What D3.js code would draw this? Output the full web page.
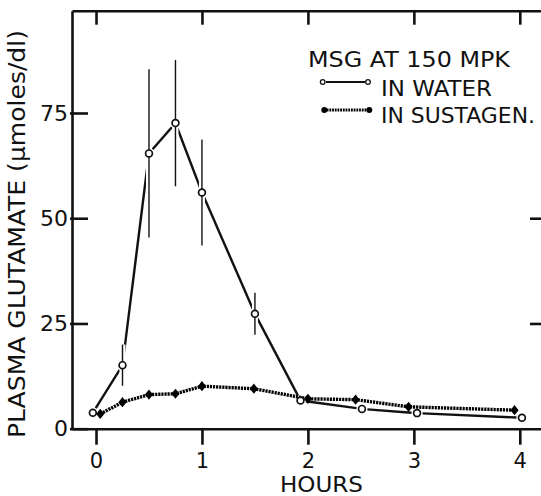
<!DOCTYPE html>
<html>
<head>
<meta charset="utf-8">
<script src="https://cdn.jsdelivr.net/npm/d3@7"></script>
<style>
  html, body { margin: 0; padding: 0; background: #fff; }
  svg { display: block; }
  text { font-family: "DejaVu Sans", "Liberation Sans", sans-serif; fill: #111; }
</style>
</head>
<body>
<svg id="chart" width="541" height="496"></svg>
<script>
// ---- data ----
const waterHours = [-0.03, 0.25, 0.5, 0.75, 1.0, 1.5, 1.93, 2.51, 3.03, 4.02];
const waterValues = [3.8, 15.1, 65.4, 72.6, 56.1, 27.3, 6.7, 4.7, 3.7, 2.6];
const waterErrors = [0, 4.9, 20, 15, 12.6, 5, 0, 0, 0, 0];
const sustagenHours = [0.04, 0.25, 0.5, 0.75, 1.0, 1.49, 2.0, 2.45, 2.95, 3.95];
const sustagenValues = [3.5, 6.3, 8.1, 8.3, 10.1, 9.5, 7.1, 6.9, 5.2, 4.4];
const xTickValues = [0, 1, 2, 3, 4];
const yTickValues = [0, 25, 50, 75];
const rightTickValues = [25, 50];
const legendTitle = "MSG AT 150 MPK";
const legendLabels = ["IN WATER", "IN SUSTAGEN."];
const xTitle = "HOURS";
const yTitle = "PLASMA GLUTAMATE (\u03bcmoles/dl)";

(function () {
// ---- layout ----
const svg = d3.select("#chart");
const pLeft = 72, pRight = 541, pTop = 10.7, pBottom = 428.7;
const x = d3.scaleLinear().domain([-0.2266, 4.2]).range([pLeft, pRight]);
const y = d3.scaleLinear().domain([0, 99.3]).range([pBottom, pTop]);
const ink = "#111";

function styleAxis(g) {
  g.selectAll("path.domain").attr("stroke", ink).attr("stroke-width", 2.6);
  g.selectAll(".tick line").attr("stroke", ink).attr("stroke-width", 2.6);
  g.selectAll(".tick text").attr("fill", ink)
    .style("font-family", '"DejaVu Sans", sans-serif');
}

// bottom axis (outward ticks)
const gx = svg.append("g").attr("transform", `translate(0,${pBottom})`)
  .call(d3.axisBottom(x).tickValues(xTickValues).tickSizeInner(16).tickSizeOuter(0)
    .tickPadding(8).tickFormat(d3.format("d")));
gx.selectAll(".tick text").style("font-size", "21px");
styleAxis(gx);

// top border (inward ticks, no labels)
const gt = svg.append("g").attr("transform", `translate(0,${pTop})`)
  .call(d3.axisTop(x).tickValues(xTickValues).tickSizeInner(-14).tickSizeOuter(0).tickFormat(""));
styleAxis(gt);

// left axis (inward ticks)
const gy = svg.append("g").attr("transform", `translate(${pLeft},0)`)
  .call(d3.axisLeft(y).tickValues(yTickValues).tickSizeInner(-16).tickSizeOuter(0)
    .tickPadding(4).tickFormat(d3.format("d")));
gy.selectAll(".tick text").style("font-size", "22px");
gy.selectAll(".tick line").attr("x1", -2);
styleAxis(gy);

// right axis (border outside the frame, only inward ticks visible)
const gr = svg.append("g").attr("transform", `translate(545,0)`)
  .call(d3.axisRight(y).tickValues(rightTickValues).tickSizeInner(-15).tickSizeOuter(0).tickFormat(""));
styleAxis(gr);

// axis titles
svg.append("text")
  .attr("x", 321.5).attr("y", 491.5)
  .attr("text-anchor", "middle")
  .attr("textLength", 83).attr("lengthAdjust", "spacingAndGlyphs")
  .style("font-size", "22px")
  .text(xTitle);

svg.append("text")
  .attr("transform", "translate(25,234) rotate(-90)")
  .attr("text-anchor", "middle")
  .attr("textLength", 408).attr("lengthAdjust", "spacingAndGlyphs")
  .style("font-size", "23px")
  .text(yTitle);

// ---- series ----
const water = waterHours.map((t, i) => ({ t, v: waterValues[i], e: waterErrors[i] }));
const sust = sustagenHours.map((t, i) => ({ t, v: sustagenValues[i] }));

// shortened solid segments (gaps next to the open circles)
const gap = 5.5;
const segs = [];
for (let i = 0; i < water.length - 1; i++) {
  const x1 = x(water[i].t), y1 = y(water[i].v), x2 = x(water[i + 1].t), y2 = y(water[i + 1].v);
  const len = Math.hypot(x2 - x1, y2 - y1), ux = (x2 - x1) / len, uy = (y2 - y1) / len;
  segs.push({ x1: x1 + ux * gap, y1: y1 + uy * gap, x2: x2 - ux * gap, y2: y2 - uy * gap });
}
svg.append("g").selectAll("line").data(segs).join("line")
  .attr("x1", d => d.x1).attr("y1", d => d.y1).attr("x2", d => d.x2).attr("y2", d => d.y2)
  .attr("stroke", ink).attr("stroke-width", 2.4).attr("stroke-linecap", "butt");

// error bars with white halo
const eb = water.filter(d => d.e > 0);
svg.append("g").selectAll("line").data(eb).join("line")
  .attr("x1", d => x(d.t)).attr("x2", d => x(d.t))
  .attr("y1", d => y(d.v + d.e)).attr("y2", d => y(d.v - d.e))
  .attr("stroke", "#fff").attr("stroke-width", 6);
svg.append("g").selectAll("line").data(eb).join("line")
  .attr("x1", d => x(d.t)).attr("x2", d => x(d.t))
  .attr("y1", d => y(d.v + d.e)).attr("y2", d => y(d.v - d.e))
  .attr("stroke", ink).attr("stroke-width", 1.4);

// sustagen dotted line
svg.append("path")
  .datum(sust)
  .attr("d", d3.line().x(d => x(d.t)).y(d => y(d.v)))
  .attr("fill", "none").attr("stroke", "#000").attr("stroke-width", 3.4)
  .attr("stroke-dasharray", "2.2,0.9");

// water markers
svg.append("g").selectAll("circle").data(water).join("circle")
  .attr("cx", d => x(d.t)).attr("cy", d => y(d.v)).attr("r", 3.4)
  .attr("fill", "#fff").attr("stroke", ink).attr("stroke-width", 1.7);

// sustagen markers (filled diamonds)
const diamond = {
  draw(ctx, size) {
    const w = 4.1, h = 5.1;
    ctx.moveTo(0, -h); ctx.lineTo(w, 0); ctx.lineTo(0, h); ctx.lineTo(-w, 0); ctx.closePath();
  }
};
svg.append("g").selectAll("path").data(sust).join("path")
  .attr("transform", d => `translate(${x(d.t)},${y(d.v)})`)
  .attr("d", d3.symbol().type(diamond).size(1))
  .attr("fill", "#000");

// ---- legend ----
svg.append("text").attr("x", 308).attr("y", 67)
  .attr("textLength", 202).attr("lengthAdjust", "spacingAndGlyphs")
  .style("font-size", "22px").text(legendTitle);
svg.append("text").attr("x", 381).attr("y", 96)
  .attr("textLength", 111).attr("lengthAdjust", "spacingAndGlyphs")
  .style("font-size", "22px").text(legendLabels[0]);
svg.append("text").attr("x", 381).attr("y", 123)
  .attr("textLength", 154).attr("lengthAdjust", "spacingAndGlyphs")
  .style("font-size", "22px").text(legendLabels[1]);

// legend sample: water
svg.append("line").attr("x1", 326).attr("x2", 365).attr("y1", 82).attr("y2", 82)
  .attr("stroke", ink).attr("stroke-width", 2);
svg.selectAll("circle.lw").data([322.7, 368]).join("circle").attr("class", "lw")
  .attr("cx", d => d).attr("cy", 82).attr("r", 2.3)
  .attr("fill", "#fff").attr("stroke", ink).attr("stroke-width", 1.3);
// legend sample: sustagen
svg.append("line").attr("x1", 324).attr("x2", 369).attr("y1", 110).attr("y2", 110)
  .attr("stroke", "#000").attr("stroke-width", 2.8).attr("stroke-dasharray", "1.8,0.9");
svg.selectAll("circle.ls").data([324.3, 369.3]).join("circle").attr("class", "ls")
  .attr("cx", d => d).attr("cy", 110).attr("r", 3)
  .attr("fill", "#000");
})();
</script>
</body>
</html>
